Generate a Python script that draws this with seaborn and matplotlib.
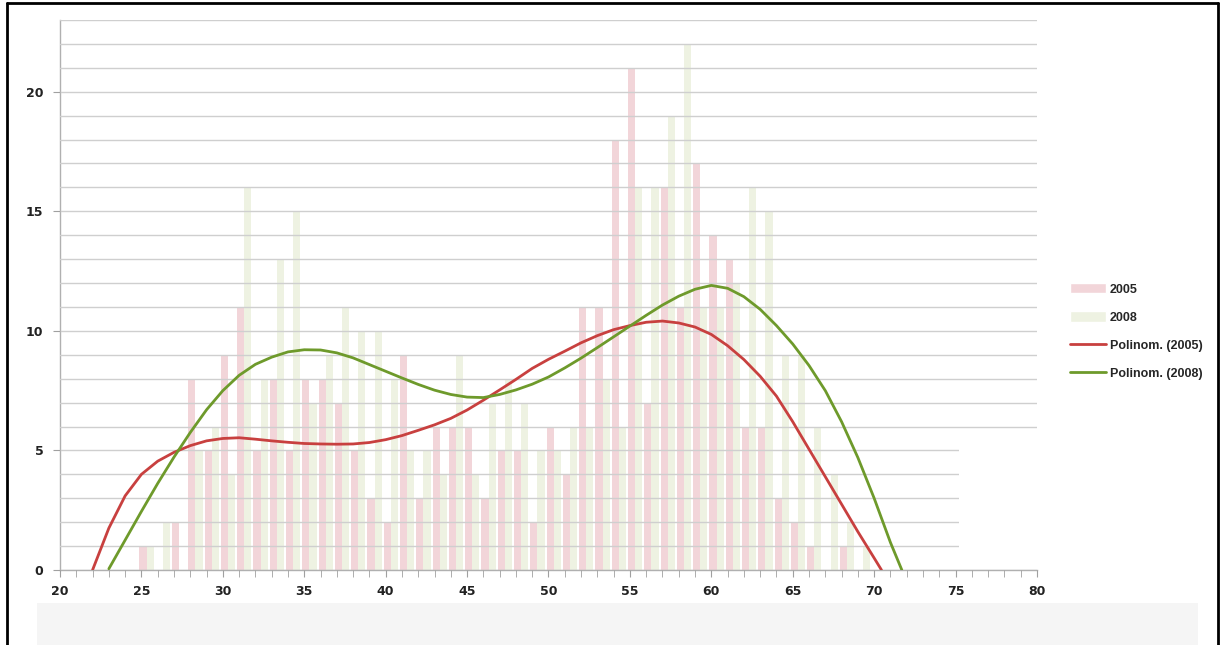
import pandas as pd
import matplotlib.pyplot as plt
import seaborn as sns
from matplotlib.patches import Patch, Rectangle
from matplotlib.lines import Line2D

# age classes and counts
ages = list(range(25, 70))
count_2005 = [1, 0, 2, 8, 5, 9, 11, 5, 8, 5,
              8, 8, 7, 5, 3, 2, 9, 3, 6, 6,
              6, 3, 5, 5, 2, 6, 4, 11, 11, 18,
              21, 7, 16, 11, 17, 14, 13, 6, 6, 3,
              2, 1, 0, 1, 0]
count_2008 = [1, 2, 0, 5, 6, 4, 16, 8, 13, 15,
              7, 9, 11, 10, 10, 8, 5, 5, 4, 9,
              4, 7, 8, 7, 5, 5, 6, 6, 8, 6,
              16, 16, 19, 22, 11, 11, 12, 16, 15, 9,
              9, 6, 4, 2, 1]

# polynomial trend lines ("Polinom.")
trend_x_2005 = list(range(22, 71)) + [70.45]
trend_2005 = [0.0, 1.75, 3.10, 4.0, 4.55, 4.92, 5.20, 5.40, 5.50, 5.53,
              5.47, 5.40, 5.34, 5.29, 5.27, 5.26, 5.27, 5.33, 5.45, 5.62,
              5.84, 6.07, 6.34, 6.69, 7.10, 7.53, 7.97, 8.43, 8.81, 9.15,
              9.50, 9.80, 10.05, 10.22, 10.36, 10.41, 10.33, 10.16, 9.85, 9.38,
              8.80, 8.10, 7.27, 6.20, 5.05, 3.90, 2.75, 1.60, 0.50, 0.0]
trend_x_2008 = list(range(23, 72)) + [71.7]
trend_2008 = [0.05, 1.25, 2.45, 3.62, 4.72, 5.75, 6.70, 7.50, 8.14, 8.60,
              8.90, 9.12, 9.21, 9.20, 9.08, 8.87, 8.59, 8.31, 8.03, 7.76,
              7.52, 7.34, 7.23, 7.21, 7.34, 7.53, 7.77, 8.07, 8.45, 8.86,
              9.30, 9.75, 10.20, 10.65, 11.08, 11.45, 11.74, 11.90, 11.78, 11.43,
              10.90, 10.22, 9.45, 8.55, 7.50, 6.20, 4.70, 3.00, 1.15, 0.0]

years = ["2005", "2008"]
bar_colors = {"2005": "#F2D5D9", "2008": "#EEF2E2"}
line_colors = {"2005": "#C8403F", "2008": "#6E9A2B"}

df = pd.concat([
    pd.DataFrame({"age": ages, "n": count_2005, "year": "2005"}),
    pd.DataFrame({"age": ages, "n": count_2008, "year": "2008"}),
])
df["pos"] = df["age"] + 0.32

sns.set_style("white")
fig = plt.figure(figsize=(12.22, 6.45), dpi=100)
ax = fig.add_axes([0.0491, 0.1163, 0.7995, 0.8527])

sns.barplot(data=df, x="pos", y="n", hue="year", hue_order=years,
            palette=bar_colors, native_scale=True, width=0.88, dodge=True,
            saturation=1, errorbar=None, linewidth=0, legend=False, ax=ax)

for yr, tx, ty in [("2005", trend_x_2005, trend_2005),
                   ("2008", trend_x_2008, trend_2008)]:
    sns.lineplot(x=tx, y=ty, color=line_colors[yr], lw=2.0, ax=ax, zorder=3,
                 solid_joinstyle="round")

ax.set_xlim(20, 80)
ax.set_ylim(0, 23)
ax.set_xticks(range(20, 81, 5))
ax.set_xticks(range(20, 81), minor=True)
ax.set_yticks(range(0, 21, 5))
ax.set_yticks(range(0, 24), minor=True)
ax.set_axisbelow(False)
ax.grid(axis="y", which="both", color="#cfcfcf", lw=1.0, zorder=2.5)
ax.set_xlabel("")
ax.set_ylabel("")
for s in ["top", "right"]:
    ax.spines[s].set_visible(False)
for s in ["left", "bottom"]:
    ax.spines[s].set_color("#b0b0b0")
    ax.spines[s].set_linewidth(1.0)
ax.tick_params(axis="x", which="both", direction="out", length=5,
               color="#a0a0a0", bottom=True, pad=6)
ax.tick_params(axis="y", which="major", direction="out", length=5,
               color="#a0a0a0", left=True, pad=7)
ax.tick_params(axis="y", which="minor", length=0)
for lab in ax.get_xticklabels() + ax.get_yticklabels():
    lab.set_fontweight("bold")
    lab.set_fontsize(9)
    lab.set_color("#222222")

# white patch over gridlines at lower right (as in the source image)
ax.add_patch(Rectangle((75.2, 0.55), 5.5, 4.8, facecolor="white",
                       edgecolor="none", zorder=2.8, clip_on=False))

handles = [Patch(facecolor=bar_colors["2005"], label="2005"),
           Patch(facecolor=bar_colors["2008"], label="2008"),
           Line2D([], [], color=line_colors["2005"], lw=2, label="Polinom. (2005)"),
           Line2D([], [], color=line_colors["2008"], lw=2, label="Polinom. (2008)")]
leg = fig.legend(handles=handles, loc="center left", bbox_to_anchor=(0.866, 0.486),
                 frameon=False,
                 prop={"family": "Liberation Sans", "weight": "bold", "size": 9},
                 labelspacing=1.25, handlelength=2.9, handleheight=0.9,
                 handletextpad=0.3)

# light grey strip at the bottom and frame lines
fig.patches.append(Rectangle((0.03, 0.0), 0.95, 0.065, transform=fig.transFigure,
                             facecolor="#f5f5f5", edgecolor="none", zorder=0))
fig.add_artist(Line2D([0.006, 0.006], [0.0, 0.995], transform=fig.transFigure,
                      color="black", lw=2))
fig.add_artist(Line2D([0.006, 0.997], [0.995, 0.995], transform=fig.transFigure,
                      color="black", lw=2))
fig.add_artist(Line2D([0.997, 0.997], [0.0, 0.995], transform=fig.transFigure,
                      color="black", lw=2))

fig.savefig("out.png", dpi=100)
